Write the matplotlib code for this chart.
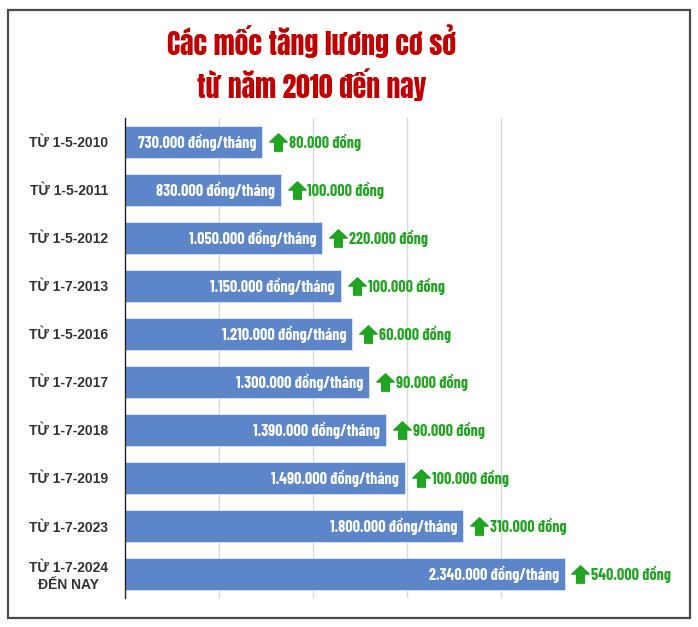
import matplotlib
matplotlib.use("Agg")
from matplotlib import pyplot as plt
from matplotlib.path import Path
from matplotlib.patches import Rectangle
from matplotlib.transforms import ScaledTranslation

periods = ["TỪ 1-5-2010", "TỪ 1-5-2011", "TỪ 1-5-2012", "TỪ 1-7-2013", "TỪ 1-5-2016",
           "TỪ 1-7-2017", "TỪ 1-7-2018", "TỪ 1-7-2019", "TỪ 1-7-2023", "TỪ 1-7-2024\nĐẾN NAY"]
salaries = [730000, 830000, 1050000, 1150000, 1210000, 1300000, 1390000, 1490000, 1800000, 2340000]
increases = [80000, 100000, 220000, 100000, 60000, 90000, 90000, 100000, 310000, 540000]


def vn(n):
    return "{:,}".format(n).replace(",", ".")


LABEL_FONT = ["Barlow Condensed", "DejaVu Sans"]
TITLE_FONT = ["Anton", "Oswald", "DejaVu Sans"]
GREEN = "#21a421"

fig = plt.figure(figsize=(6.98, 6.27), dpi=100)
ax = fig.add_axes([125 / 698, 1 - 598 / 627, 470 / 698, 480 / 627])

# khung ngoai
fig.patches.append(Rectangle((8 / 698, 1 - 618 / 627), 682 / 698, 608 / 627,
                             transform=fig.transFigure, fill=False,
                             edgecolor="#4a4a4a", linewidth=1.6))

y = list(range(len(periods)))
ax.barh(y, salaries, height=0.67, color="#5d86ca", edgecolor="#dfe6f3", linewidth=0.6, zorder=2)

ax.set_xlim(0, 2500000)
ax.set_ylim(len(periods) - 0.5, -0.5)
ax.set_xticks([500000, 1000000, 1500000, 2000000])
ax.set_xticklabels([])
ax.tick_params(length=0)
ax.grid(axis="x", color="#d9d9d9", linewidth=1, zorder=0)
for s in ["top", "right", "bottom"]:
    ax.spines[s].set_visible(False)
ax.spines["left"].set_color("#222222")
ax.spines["left"].set_linewidth(1)

ax.set_yticks(y)
ax.set_yticklabels(periods, fontsize=10, fontweight="bold", color="#333333",
                   family=["Liberation Sans", "DejaVu Sans"], multialignment="center")
ax.tick_params(axis="y", pad=12)

arrow = Path([(-1, 0.05), (0, 1), (1, 0.05), (0.45, 0.05), (0.45, -1), (-0.45, -1), (-0.45, 0.05), (-1, 0.05)],
             [Path.MOVETO] + [Path.LINETO] * 6 + [Path.CLOSEPOLY])
shift = ScaledTranslation(15.5 / 100, 0, fig.dpi_scale_trans)

for i, (v, d) in enumerate(zip(salaries, increases)):
    ax.annotate(vn(v) + " đồng/tháng", (v, i), xytext=(-4.5, 0), textcoords="offset points",
                ha="right", va="center", color="white", fontsize=11.6, fontweight="bold",
                family=LABEL_FONT)
    ax.plot([v], [i], marker=arrow, markersize=12.5, color=GREEN, linestyle="none",
            transform=ax.transData + shift, clip_on=False)
    ax.annotate(vn(d) + " đồng", (v, i), xytext=(19, 0), textcoords="offset points",
                ha="left", va="center", color=GREEN, fontsize=11.6, fontweight="bold",
                family=LABEL_FONT, annotation_clip=False)

fig.text(312 / 698, 1 - 55 / 627, "Các mốc tăng lương cơ sở", ha="center", va="baseline",
         color="#c00000", fontsize=20, family=TITLE_FONT)
fig.text(312 / 698, 1 - 98 / 627, "từ năm 2010 đến nay", ha="center", va="baseline",
         color="#c00000", fontsize=20, family=TITLE_FONT)

fig.savefig("out.png", dpi=100)
